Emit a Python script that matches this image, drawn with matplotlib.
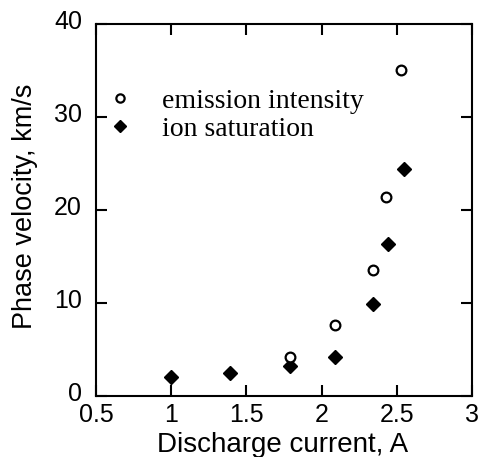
import matplotlib
matplotlib.use("Agg")
import matplotlib.pyplot as plt
import matplotlib.transforms as mtransforms

# emission intensity (open circles)
em_current = [1.79, 2.09, 2.34, 2.43, 2.53]
em_velocity = [4.2, 7.6, 13.6, 21.4, 35.0]

# ion saturation (filled diamonds)
ion_current = [1.0, 1.39, 1.79, 2.09, 2.34, 2.44, 2.55]
ion_velocity = [2.0, 2.5, 3.2, 4.2, 9.9, 16.3, 24.4]

plt.rcParams["font.family"] = "Liberation Sans"

fig = plt.figure(figsize=(4.81, 4.57), dpi=100)
ax = fig.add_axes([0.1996, 0.1335, 0.7817, 0.814])

ax.plot(ion_current, ion_velocity, linestyle="none", marker="D", markersize=7.5,
        color="black", label="ion saturation", zorder=2)
ax.plot(em_current, em_velocity, linestyle="none", marker="o", markersize=7,
        markerfacecolor="white", markeredgecolor="black", markeredgewidth=1.6,
        label="emission intensity", zorder=3)

ax.set_xlim(0.5, 3)
ax.set_ylim(0, 40)
ax.set_xticks([0.5, 1, 1.5, 2, 2.5, 3])
ax.set_xticklabels(["0.5", "1", "1.5", "2", "2.5", "3"])
ax.set_yticks([0, 10, 20, 30, 40])

for s in ax.spines.values():
    s.set_linewidth(1.5)
ax.tick_params(direction="in", length=8, width=1.5, top=True, right=True,
               labelsize=18)
ax.tick_params(axis="x", pad=5)
ax.tick_params(axis="y", pad=10)

# y tick labels sit a little above their ticks in the original
shift = mtransforms.ScaledTranslation(0, 0.04, fig.dpi_scale_trans)
for lbl in ax.get_yticklabels():
    lbl.set_transform(lbl.get_transform() + shift)

ax.set_xlabel("Discharge current, A", fontsize=20)
ax.set_ylabel("Phase velocity, km/s", fontsize=19.5)
ax.xaxis.set_label_coords(0.496, -0.097)
ax.yaxis.set_label_coords(-0.155, 0.51)

handles, labels = ax.get_legend_handles_labels()
ax.legend(handles[::-1], labels[::-1], loc="upper left",
          bbox_to_anchor=(-0.024, 0.879), frameon=False,
          prop={"family": "Liberation Serif", "size": 20},
          markerscale=0.85, handletextpad=1.0, labelspacing=0.1,
          handlelength=1.0, borderaxespad=0.3)

fig.savefig("out.png", dpi=100)
